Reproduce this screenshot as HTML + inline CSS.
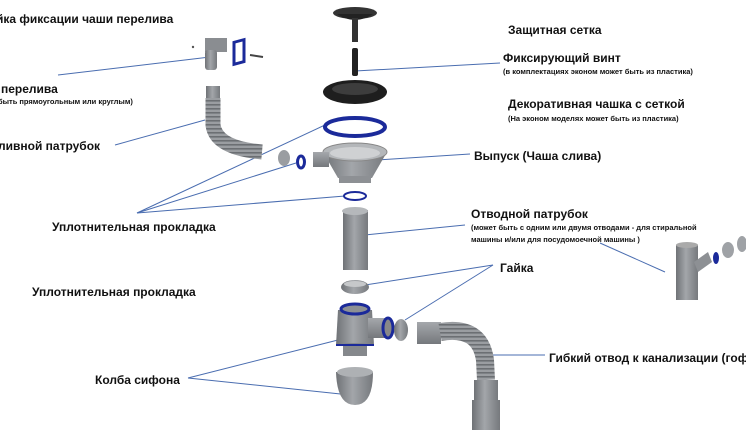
<!DOCTYPE html>
<html><head><meta charset="utf-8"><style>
html,body{margin:0;padding:0;background:#fff}
svg{display:block}
text{font-family:"Liberation Sans Narrow","Liberation Sans",sans-serif;font-weight:bold;fill:#111}
</style></head><body>
<svg width="746" height="437" viewBox="0 0 746 437" xmlns="http://www.w3.org/2000/svg">
<defs>
<linearGradient id="g" x1="0" x2="1"><stop offset="0" stop-color="#6f7276"/><stop offset="0.45" stop-color="#a3a6aa"/><stop offset="1" stop-color="#76797d"/></linearGradient>
<linearGradient id="gv" x1="0" y1="0" x2="0" y2="1"><stop offset="0" stop-color="#a5a8ac"/><stop offset="1" stop-color="#75787c"/></linearGradient>
<pattern id="rib" width="4" height="4" patternUnits="userSpaceOnUse"><rect width="4" height="4" fill="#9a9da1"/><rect width="4" height="1.6" fill="#6c6f73"/></pattern>
</defs>

<!-- labels -->
<text x="-4" y="23" font-size="12">йка фиксации чаши перелива</text>
<text x="1" y="93" font-size="12">перелива</text>
<text x="-2" y="104" font-size="7.5">быть прямоугольным или круглым)</text>
<text x="-2" y="150" font-size="12">ливной патрубок</text>
<text x="52" y="231" font-size="12">Уплотнительная прокладка</text>
<text x="32" y="296" font-size="12">Уплотнительная прокладка</text>
<text x="95" y="384" font-size="12">Колба сифона</text>
<text x="508" y="34" font-size="12">Защитная сетка</text>
<text x="503" y="62" font-size="12">Фиксирующий винт</text>
<text x="503" y="74" font-size="7.5">(в комплектациях эконом может быть из пластика)</text>
<text x="508" y="108" font-size="12">Декоративная чашка с сеткой</text>
<text x="508" y="121" font-size="7.5">(На эконом моделях может быть из пластика)</text>
<text x="474" y="160" font-size="12">Выпуск (Чаша слива)</text>
<text x="471" y="218" font-size="12">Отводной патрубок</text>
<text x="471" y="230" font-size="7.5">(может быть с одним или двумя отводами -  для стиральной</text>
<text x="471" y="242" font-size="7.5">машины и/или для посудомоечной машины )</text>
<text x="500" y="272" font-size="12">Гайка</text>
<text x="549" y="362" font-size="12">Гибкий отвод к канализации (гофорот</text>

<!-- leader lines -->
<g stroke="#4a6db0" stroke-width="1" fill="none">
<line x1="58" y1="75" x2="210" y2="57"/>
<line x1="115" y1="145" x2="205" y2="120"/>
<line x1="137" y1="213" x2="325" y2="125"/>
<line x1="137" y1="213" x2="296" y2="163"/>
<line x1="137" y1="213" x2="345" y2="196"/>
<line x1="188" y1="378" x2="338" y2="340"/>
<line x1="188" y1="378" x2="350" y2="395"/>
<line x1="355" y1="71" x2="500" y2="63"/>
<line x1="378" y1="160" x2="470" y2="154"/>
<line x1="355" y1="236" x2="465" y2="225"/>
<line x1="600" y1="243" x2="665" y2="272"/>
<line x1="493" y1="265" x2="365" y2="285"/>
<line x1="493" y1="265" x2="405" y2="320"/>
<line x1="480" y1="355" x2="545" y2="355"/>
</g>

<!-- overflow cup -->
<rect x="205" y="38" width="22" height="14" fill="#8a8d91"/>
<rect x="205" y="50" width="12" height="20" rx="3" fill="url(#g)"/>
<rect x="234" y="41" width="10" height="22" fill="none" stroke="#1b2a9a" stroke-width="3" transform="skewY(-15) translate(0,64)"/>
<line x1="250" y1="55" x2="263" y2="57" stroke="#444" stroke-width="2"/>
<circle cx="193" cy="47" r="1.2" fill="#555"/>
<!-- overflow hose -->
<rect x="206" y="86" width="14" height="12" fill="url(#g)"/>
<path d="M213 98 L213 125 Q216 148 262 152" stroke="url(#rib)" stroke-width="15" fill="none"/>
<ellipse cx="284" cy="158" rx="6" ry="8" fill="#9a9da1"/>
<ellipse cx="301" cy="162" rx="3.5" ry="6" fill="none" stroke="#1b2a9a" stroke-width="3"/>

<!-- strainer -->
<ellipse cx="355" cy="13" rx="22" ry="6" fill="#333"/>
<path d="M337 14 Q355 26 373 14" fill="#222"/>
<rect x="352" y="18" width="6" height="24" fill="#333"/>
<rect x="352" y="48" width="6" height="28" rx="2" fill="#222"/>
<!-- black cup -->
<ellipse cx="355" cy="92" rx="32" ry="12" fill="#1e1e1e"/>
<ellipse cx="355" cy="89" rx="23" ry="6" fill="#3d3d3d"/>
<!-- blue ring -->
<ellipse cx="355" cy="127" rx="30" ry="9" fill="none" stroke="#1b2a9a" stroke-width="4"/>
<!-- bowl -->
<path d="M323 152 L338 178 L372 178 L387 152 Z" fill="url(#g)"/>
<rect x="339" y="176" width="32" height="7" fill="#8d9094"/>
<ellipse cx="355" cy="152" rx="32" ry="9" fill="#b4b7ba" stroke="#888" />
<ellipse cx="355" cy="153" rx="25" ry="6" fill="#cfd1d3"/>
<rect x="313" y="152" width="16" height="15" fill="url(#gv)"/>
<!-- small o-ring -->
<ellipse cx="355" cy="196" rx="11" ry="4" fill="none" stroke="#1b2a9a" stroke-width="2"/>
<!-- pipe -->
<rect x="343" y="210" width="25" height="60" fill="url(#g)"/>
<ellipse cx="355" cy="211" rx="13" ry="4" fill="#b5b8bb"/>
<!-- nut -->
<ellipse cx="355" cy="287" rx="14" ry="7" fill="url(#g)"/>
<ellipse cx="355" cy="284" rx="11" ry="3" fill="#c6c8ca"/>
<!-- siphon body -->
<path d="M338 310 L372 310 L374 345 L336 345 Z" fill="url(#g)"/>
<rect x="343" y="343" width="24" height="13" fill="#85888c"/>
<ellipse cx="355" cy="309" rx="14" ry="5" fill="#8d9094" stroke="#1b2a9a" stroke-width="3"/>
<line x1="336" y1="345" x2="374" y2="345" stroke="#1b2a9a" stroke-width="2"/>
<rect x="368" y="318" width="20" height="20" fill="url(#gv)"/>
<ellipse cx="388" cy="328" rx="5" ry="10" fill="#888" stroke="#1b2a9a" stroke-width="3"/>
<ellipse cx="401" cy="330" rx="7" ry="11" fill="url(#g)"/>
<!-- cup -->
<path d="M336 372 Q337 405 355 405 Q373 405 373 372 Z" fill="url(#g)"/>
<ellipse cx="355" cy="372" rx="18" ry="5" fill="#aeb1b4"/>
<!-- flex hose -->
<rect x="417" y="322" width="24" height="22" fill="url(#gv)"/>
<path d="M440 332 Q480 325 485 360 L486 380" stroke="url(#rib)" stroke-width="18" fill="none"/>
<rect x="474" y="380" width="24" height="20" fill="url(#g)"/>
<rect x="472" y="400" width="28" height="30" fill="url(#g)"/>
<!-- right tee -->
<rect x="676" y="245" width="22" height="55" fill="url(#g)"/>
<ellipse cx="687" cy="245" rx="11" ry="3" fill="#aaa"/>
<path d="M694 262 L708 252 L712 262 L698 272 Z" fill="#8d9094"/>
<ellipse cx="716" cy="258" rx="3" ry="6" fill="#1b2a9a"/>
<ellipse cx="728" cy="250" rx="6" ry="8" fill="#9fa2a6"/>
<ellipse cx="742" cy="244" rx="5" ry="8" fill="#9fa2a6"/>
</svg>
</body></html>
